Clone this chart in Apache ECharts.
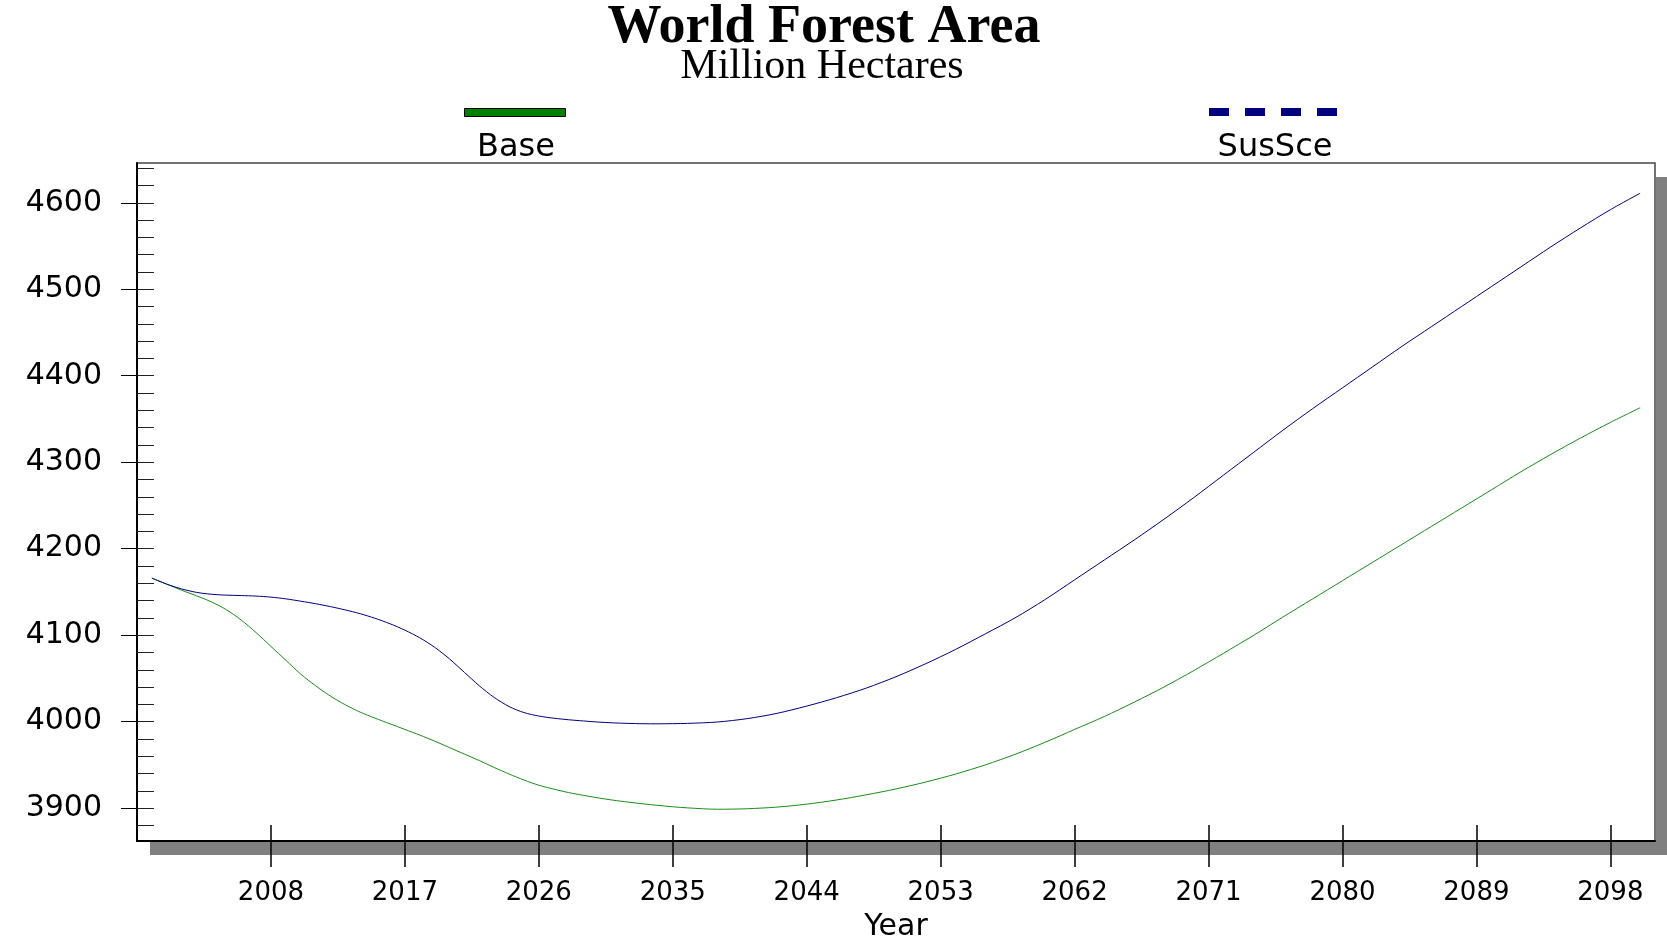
<!DOCTYPE html>
<html>
<head>
<meta charset="utf-8">
<script src="https://cdn.jsdelivr.net/npm/echarts@6/dist/echarts.min.js"></script>
<style>html,body{margin:0;padding:0;background:#fff;}#chart{width:1667px;height:941px;}</style>
</head>
<body>
<div id="chart"></div>
<script>
const titleText = 'World Forest Area';
const subtitleText = 'Million Hectares';
const seriesNames = ['Base', 'SusSce'];
const xAxisName = 'Year';
const years = [2000,2001,2002,2003,2004,2005,2006,2007,2008,2009,2010,2011,2012,2013,2014,2015,2016,2017,2018,2019,2020,2021,2022,2023,2024,2025,2026,2027,2028,2029,2030,2031,2032,2033,2034,2035,2036,
  2038,2040,2042,2044,2046,2048,2050,2052,2054,2056,2058,2060,2062,2064,2066,2068,2070,2072,2074,2076,2078,2080,2082,2084,2086,2088,2090,2092,2094,2096,2098,2100];
const baseValues = [4166,4159,4152,4145.5,4138.5,4129.5,4117.5,4103,4087,4071,4055,4041.5,4029.5,4019.5,4011,4004,3997.5,3991,3984.5,3977.5,3970,3962.5,3955,3947,3939.5,3932.5,3926.5,3922,3918,3914.8,3911.8,3909.2,3907,3905,3903.2,3901.6,3900.3,
  3898.7,3899.3,3901.2,3904.6,3909.4,3915.4,3922.2,3930.2,3939.4,3950,3962.2,3976,3991,4006,4022.5,4040,4059,4079,4099.5,4121,4142,4163,4184,4205,4226,4247,4268,4289,4309,4328,4346,4363];
const susSceValues = [4166,4159,4153.5,4149.5,4147.3,4146.3,4145.8,4145.2,4144,4142,4139.3,4136.4,4133,4129.2,4124.8,4119.5,4113.2,4105.8,4097,4086,4072.5,4057,4041.5,4028,4017.5,4010.5,4006.5,4004,4002.2,4000.8,3999.5,3998.6,3998,3997.6,3997.5,3997.7,3998,
  3999.6,4003.5,4009.6,4018,4027.7,4038.8,4052,4067,4083.5,4101.5,4120,4141,4164,4187,4210,4234,4259,4285,4311,4337,4362,4386,4410,4434,4457,4480,4503,4526,4549,4571,4592,4611];
const xTickLabels = [2008,2017,2026,2035,2044,2053,2062,2071,2080,2089,2098];
const yTickLabels = [3900,4000,4100,4200,4300,4400,4500,4600];
const yMinorTicks = [3880,3900,3920,3940,3960,3980,4000,4020,4040,4060,4080,4100,4120,4140,4160,4180,4200,4220,4240,4260,4280,4300,4320,4340,4360,4380,4400,4420,4440,4460,4480,4500,4520,4540,4560,4580,4600,4620,4640];

const X_MIN = 1999, X_MAX = 2101, Y_MIN = 3862, Y_MAX = 4646;
const pair = (vals) => years.map((y, i) => [y, vals[i]]);
const plain = (v) => String(v);

const chart = echarts.init(document.getElementById('chart'));
const sans = 'DejaVu Sans';
const serif = 'Liberation Serif';

chart.setOption({
  animation: false,
  backgroundColor: '#ffffff',
  title: [
    { text: titleText, left: 824, top: 1, textAlign: 'center', padding: 0,
      textStyle: { fontFamily: serif, fontWeight: 'bold', fontSize: 54, color: '#000' } },
    { text: subtitleText, left: 822, top: 46, textAlign: 'center', padding: 0,
      textStyle: { fontFamily: serif, fontWeight: 'normal', fontSize: 42, color: '#000' } },
    { text: seriesNames[0], left: 516, top: 132, textAlign: 'center', padding: 0,
      textStyle: { fontFamily: sans, fontWeight: 'normal', fontSize: 32, color: '#000' } },
    { text: seriesNames[1], left: 1275, top: 132, textAlign: 'center', padding: 0,
      textStyle: { fontFamily: sans, fontWeight: 'normal', fontSize: 32, color: '#000' } }
  ],
  legend: [
    { data: [seriesNames[0]], left: 464, top: 108, padding: 0, itemWidth: 101, itemHeight: 8,
      icon: 'rect', formatter: () => '', selectedMode: false,
      itemStyle: { color: '#008000', borderColor: '#000', borderWidth: 1 },
      textStyle: { fontSize: 8 } },
    { data: [seriesNames[1]], left: 1209, top: 108, padding: 0, itemWidth: 128, itemHeight: 8,
      icon: 'path://M0,0h20v8h-20z M36,0h20v8h-20z M72,0h20v8h-20z M108,0h20v8h-20z',
      formatter: () => '', selectedMode: false,
      itemStyle: { color: '#000080', borderWidth: 0 },
      textStyle: { fontSize: 8 } }
  ],
  graphic: [
    { type: 'rect', shape: { x: 150, y: 842, width: 1517, height: 13 }, style: { fill: '#808080' }, silent: true },
    { type: 'rect', shape: { x: 1656, y: 177, width: 11, height: 678 }, style: { fill: '#808080' }, silent: true }
  ],
  grid: {
    left: 137, top: 163, right: 12, bottom: 100,
    show: true, backgroundColor: '#fff', borderColor: '#444', borderWidth: 1.5,
    containLabel: false, outerBoundsMode: 'none'
  },
  xAxis: [
    { type: 'value', position: 'bottom', min: X_MIN, max: X_MAX,
      name: xAxisName, nameLocation: 'middle', nameGap: 71,
      nameTextStyle: { fontFamily: sans, fontSize: 30, color: '#000' },
      axisLine: { show: true, onZero: false, lineStyle: { color: '#000', width: 2 } },
      axisTick: { show: true, inside: false, length: 26, customValues: xTickLabels, lineStyle: { color: '#000', width: 1.5 } },
      axisLabel: { show: true, customValues: xTickLabels, formatter: plain, margin: 39, fontFamily: sans, fontSize: 26, color: '#000' },
      splitLine: { show: false } },
    { type: 'value', position: 'bottom', min: X_MIN, max: X_MAX,
      axisLine: { show: false, onZero: false },
      axisTick: { show: true, inside: true, length: 16, customValues: xTickLabels, lineStyle: { color: '#000', width: 1.5 } },
      axisLabel: { show: false },
      splitLine: { show: false } }
  ],
  yAxis: [
    { type: 'value', position: 'left', min: Y_MIN, max: Y_MAX,
      axisLine: { show: true, onZero: false, lineStyle: { color: '#000', width: 2 } },
      axisTick: { show: true, inside: false, length: 16, customValues: yTickLabels, lineStyle: { color: '#000', width: 1 } },
      axisLabel: { show: true, customValues: yTickLabels, formatter: plain, margin: 35, fontFamily: sans, fontSize: 30, color: '#000' },
      splitLine: { show: false } },
    { type: 'value', position: 'left', min: Y_MIN, max: Y_MAX,
      axisLine: { show: false, onZero: false },
      axisTick: { show: true, inside: true, length: 17, customValues: yMinorTicks, lineStyle: { color: '#222', width: 1 } },
      axisLabel: { show: false },
      splitLine: { show: false } }
  ],
  series: [
    { name: seriesNames[0], type: 'line', xAxisIndex: 0, yAxisIndex: 0, data: pair(baseValues),
      showSymbol: false, symbol: 'none', smooth: 0.3, color: '#008000',
      lineStyle: { color: '#1a8c1a', width: 1 } },
    { name: seriesNames[1], type: 'line', xAxisIndex: 0, yAxisIndex: 0, data: pair(susSceValues),
      showSymbol: false, symbol: 'none', smooth: 0.3, color: '#000080',
      lineStyle: { color: '#000080', width: 1 } }
  ]
});
</script>
</body>
</html>
